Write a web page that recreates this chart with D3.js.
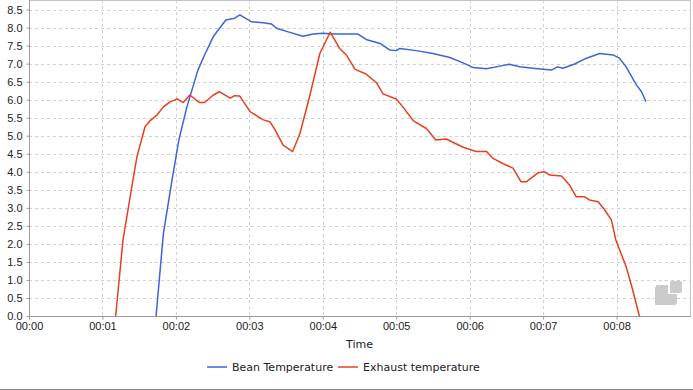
<!DOCTYPE html>
<html>
<head>
<meta charset="utf-8">
<script src="https://cdn.jsdelivr.net/npm/d3@7"></script>
<style>
  html, body { margin: 0; padding: 0; background: #fff; }
  svg { display: block; font-family: "DejaVu Sans", sans-serif; }
  .grid line { stroke: #d0d0d0; stroke-dasharray: 3,3; }
  .axis text { font-size: 11px; fill: #222; }
  .axis path, .axis line { stroke: #999; }
</style>
</head>
<body>
<svg id="chart" width="693" height="390"></svg>
<script>
/* ── Data (time in minutes, value) ─────────────────────────────────────────── */
const beanTime = [1.73, 1.83, 1.94, 2.04, 2.15, 2.30, 2.39, 2.51, 2.68, 2.80, 2.87, 3.03, 3.19, 3.30, 3.37, 3.53, 3.73, 3.87, 4.00, 4.14, 4.37, 4.48, 4.59, 4.78, 4.91, 5.00, 5.05, 5.27, 5.50, 5.73, 5.91, 6.05, 6.23, 6.41, 6.54, 6.68, 6.86, 7.11, 7.20, 7.27, 7.43, 7.59, 7.77, 7.95, 8.04, 8.13, 8.27, 8.34, 8.40];
const beanTemp = [0.00, 2.29, 3.68, 4.88, 5.80, 6.82, 7.24, 7.75, 8.21, 8.26, 8.35, 8.16, 8.13, 8.10, 7.98, 7.88, 7.76, 7.82, 7.84, 7.82, 7.82, 7.82, 7.67, 7.56, 7.38, 7.36, 7.42, 7.36, 7.28, 7.17, 7.02, 6.89, 6.86, 6.93, 6.98, 6.91, 6.87, 6.82, 6.91, 6.87, 6.99, 7.15, 7.28, 7.24, 7.15, 6.91, 6.41, 6.22, 5.94];

const exhTime = [1.18, 1.28, 1.40, 1.47, 1.58, 1.65, 1.74, 1.83, 1.92, 2.02, 2.10, 2.19, 2.32, 2.39, 2.51, 2.59, 2.74, 2.80, 2.87, 3.01, 3.19, 3.28, 3.35, 3.46, 3.59, 3.69, 3.82, 3.96, 4.10, 4.23, 4.32, 4.44, 4.59, 4.73, 4.82, 5.00, 5.09, 5.23, 5.41, 5.54, 5.68, 5.91, 6.09, 6.23, 6.32, 6.45, 6.59, 6.70, 6.77, 6.93, 7.02, 7.09, 7.25, 7.36, 7.45, 7.56, 7.63, 7.75, 7.84, 7.93, 7.99, 8.13, 8.22, 8.31];
const exhTemp = [0.00, 2.11, 3.59, 4.42, 5.25, 5.42, 5.57, 5.80, 5.94, 6.02, 5.92, 6.13, 5.92, 5.92, 6.13, 6.22, 6.04, 6.11, 6.10, 5.67, 5.44, 5.39, 5.16, 4.74, 4.56, 5.07, 6.08, 7.28, 7.87, 7.42, 7.24, 6.84, 6.71, 6.47, 6.16, 6.02, 5.80, 5.42, 5.20, 4.88, 4.91, 4.68, 4.56, 4.56, 4.37, 4.23, 4.10, 3.72, 3.72, 3.97, 4.00, 3.91, 3.88, 3.63, 3.31, 3.31, 3.22, 3.17, 2.94, 2.66, 2.11, 1.37, 0.72, 0.00];

const xTicks = [0, 1, 2, 3, 4, 5, 6, 7, 8];
const yTicks = d3.range(0, 8.51, 0.5);
const seriesNames = ["Bean Temperature", "Exhaust temperature"];
const COLORS = ["#3a66d6", "#e6401e"];

/* ── Layout ───────────────────────────────────────────────────────────────── */
const svg = d3.select("#chart");
const L = 29, R = 690, T = 0, B = 316;

const x = d3.scaleLinear().domain([0, 9]).range([L, R]);
const y = d3.scaleLinear().domain([0, 8.764]).range([B, T]);

const fmtTime = m => "00:" + String(m).padStart(2, "0");

// Grid
const grid = svg.append("g").attr("class", "grid");
grid.selectAll("line.h").data(yTicks.filter(v => v > 0)).join("line")
  .attr("class", "h")
  .attr("x1", L).attr("x2", R)
  .attr("y1", d => Math.round(y(d)) + 0.5).attr("y2", d => Math.round(y(d)) + 0.5);
grid.selectAll("line.v").data(xTicks.filter(v => v > 0)).join("line")
  .attr("class", "v")
  .attr("y1", T).attr("y2", B)
  .attr("x1", d => Math.round(x(d)) + 0.5).attr("x2", d => Math.round(x(d)) + 0.5);

// Plot frame (top and right)
svg.append("path")
  .attr("d", `M${L},0.5H${R + 0.5}V${B}`)
  .attr("fill", "none").attr("stroke", "#c4c4c4");

// Axes
const xAxis = svg.append("g").attr("class", "axis")
  .attr("transform", `translate(0,${B + 0.5})`)
  .call(d3.axisBottom(x).tickValues(xTicks).tickFormat(fmtTime).tickSizeOuter(0).tickSize(3).tickPadding(3));
xAxis.select(".domain").attr("d", `M${L},0H${R + 1}`);

const yAxis = svg.append("g").attr("class", "axis")
  .attr("transform", `translate(${L + 0.5},0)`)
  .call(d3.axisLeft(y).tickValues(yTicks).tickFormat(d3.format(".1f")).tickSizeOuter(0).tickSize(3).tickPadding(4));
yAxis.select(".domain").attr("d", `M0,${T}V${B}`);
yAxis.selectAll(".tick text").attr("dy", "0.36em");

// Axis title
svg.append("text")
  .attr("x", (L + R) / 2).attr("y", 348)
  .attr("text-anchor", "middle")
  .attr("font-size", 11).attr("fill", "#222")
  .text("Time");

// Watermark logo
const logo = svg.append("g").attr("fill", "#cbcbcb");
logo.append("path")
  .attr("d", "M658,285 H668 V294 H677 V302 Q677,305 674,305 H655 V289 Q655,285 658,285 Z");
logo.append("path")
  .attr("d", "M671,281 H680 Q682,281 682,283 V291 Q682,293 680,293 H670 V282 Z");

// Lines
const line = d3.line().x(d => x(d[0])).y(d => y(d[1]));
const clip = svg.append("clipPath").attr("id", "clip")
  .append("rect").attr("x", L).attr("y", T).attr("width", R - L).attr("height", B - T);

const series = [
  d3.zip(beanTime, beanTemp),
  d3.zip(exhTime, exhTemp),
];
svg.append("g").attr("clip-path", "url(#clip)")
  .selectAll("path").data(series).join("path")
  .attr("fill", "none")
  .attr("stroke", (d, i) => COLORS[i])
  .attr("stroke-width", 1.5)
  .attr("stroke-linejoin", "round")
  .attr("d", line);

// Legend
const legendX = [207, 338];
const lg = svg.append("g").selectAll("g").data(seriesNames).join("g")
  .attr("transform", (d, i) => `translate(${legendX[i]},367)`);
lg.append("line").attr("x1", 0).attr("x2", 20)
  .attr("stroke", (d, i) => COLORS[i]).attr("stroke-width", 1.5);
lg.append("text").attr("x", 25).attr("dy", "0.36em")
  .attr("font-size", 11).attr("fill", "#222")
  .text(d => d);

// Bottom border
svg.append("line").attr("x1", 0).attr("x2", 693).attr("y1", 389.5).attr("y2", 389.5)
  .attr("stroke", "#888");
</script>
</body>
</html>
